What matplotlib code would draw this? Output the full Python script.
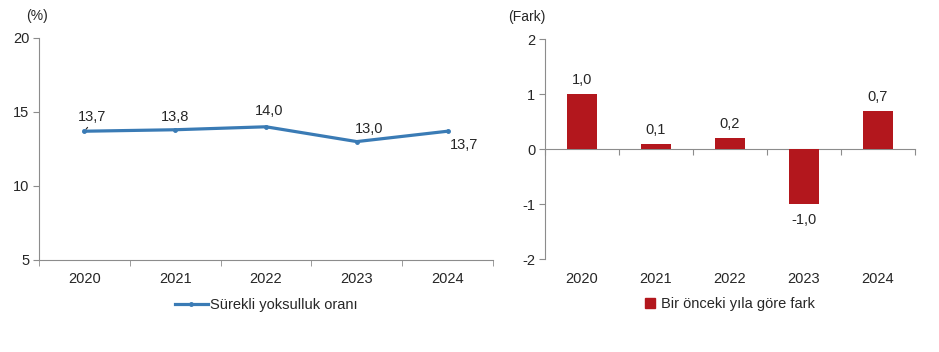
import matplotlib
matplotlib.use("Agg")
import matplotlib.pyplot as plt
from matplotlib.lines import Line2D
from matplotlib.patches import Patch

plt.rcParams['font.family'] = ['Liberation Sans', 'DejaVu Sans']
plt.rcParams['font.size'] = 10
plt.rcParams['axes.unicode_minus'] = False

# data
years = ['2020', '2021', '2022', '2023', '2024']
rate = [13.7, 13.8, 14.0, 13.0, 13.7]
diff = [1.0, 0.1, 0.2, -1.0, 0.7]

line_color = '#3A7BB5'
bar_color = '#B3171D'
axis_color = '#8C8C8C'
text_color = '#262626'


def fmt(v):
    return f"{v:.1f}".replace('.', ',')


fig = plt.figure(figsize=(9.39, 3.52), dpi=100)
ax1 = fig.add_axes([0.0415, 0.2614, 0.4835, 0.6307])
ax2 = fig.add_axes([0.5804, 0.2642, 0.3940, 0.6250])

x = list(range(len(years)))

# left: line chart
ax1.plot(x, rate, color=line_color, lw=2.3, marker='o', ms=2.5, zorder=3)
ax1.set_xlim(-0.5, 4.5)
ax1.set_ylim(5, 20)
ax1.set_yticks([5, 10, 15, 20])
ax1.set_xticks(x)
ax1.set_xticklabels(years)
ax1.set_xticks([i - 0.5 for i in range(len(years) + 1)], minor=True)
ax1.tick_params(axis='x', which='major', length=0, pad=9, labelsize=10.5, colors=text_color)
ax1.tick_params(axis='x', which='minor', length=4, color=axis_color, direction='out')
ax1.tick_params(axis='y', length=4, color=axis_color, labelsize=10.5, labelcolor=text_color, pad=3)
for s in ['top', 'right']:
    ax1.spines[s].set_visible(False)
for s in ['left', 'bottom']:
    ax1.spines[s].set_color(axis_color)

offsets = [(8, 14), (0, 13), (3, 16), (12, 13), (16, -14)]
for i, (v, off) in enumerate(zip(rate, offsets)):
    ax1.annotate(fmt(v), (i, v), xytext=off, textcoords='offset pixels',
                 ha='center', va='center', fontsize=10.5, color=text_color)
ax1.annotate('', (0, rate[0]), xytext=(5, 6), textcoords='offset pixels',
             arrowprops=dict(arrowstyle='-', color=text_color, lw=0.8))

ax1.text(-0.004, 1.10, '(%)', transform=ax1.transAxes, ha='center', va='center',
         fontsize=10, color=text_color)

h1 = Line2D([], [], color=line_color, lw=2.3, marker='o', ms=2.5)
ax1.legend([h1], ['Sürekli yoksulluk oranı'], loc='center', bbox_to_anchor=(0.5, -0.205),
           frameon=False, fontsize=10.5, handlelength=2.3, handletextpad=0.1,
           labelcolor=text_color)

# right: bar chart
ax2.bar(x, diff, width=0.4, color=bar_color, zorder=3)
ax2.set_xlim(-0.5, 4.5)
ax2.set_ylim(-2, 2)
ax2.set_yticks([-2, -1, 0, 1, 2])
ax2.set_xticks(x)
ax2.set_xticklabels(years)
ax2.tick_params(axis='x', which='major', length=0, pad=9, labelsize=10.5, colors=text_color)
ax2.tick_params(axis='y', length=4, color=axis_color, labelsize=10.5, labelcolor=text_color, pad=3)
for s in ['top', 'right', 'bottom']:
    ax2.spines[s].set_visible(False)
ax2.spines['left'].set_color(axis_color)

zero_axis = ax2.secondary_xaxis(0.5)
zero_axis.set_xticks([i - 0.5 for i in range(len(years) + 1)])
zero_axis.tick_params(length=4, color=axis_color, labelbottom=False, labeltop=False)
zero_axis.spines['bottom'].set_color(axis_color)
zero_axis.spines['top'].set_color(axis_color)
zero_axis.xaxis.set_ticks_position('bottom')
zero_axis.tick_params(labelbottom=False)

for i, v in enumerate(diff):
    off = 14 if v >= 0 else -16
    ax2.annotate(fmt(v), (i, v), xytext=(0, off), textcoords='offset pixels',
                 ha='center', va='center', fontsize=10.5, color=text_color)

ax2.text(-0.05, 1.10, '(Fark)', transform=ax2.transAxes, ha='center', va='center',
         fontsize=10, color=text_color)

h2 = Patch(color=bar_color)
ax2.legend([h2], ['Bir önceki yıla göre fark'], loc='center', bbox_to_anchor=(0.5, -0.205),
           frameon=False, fontsize=10.5, handlelength=0.7, handleheight=0.7,
           handletextpad=0.4, labelcolor=text_color)

fig.savefig('out.png', dpi=100)
